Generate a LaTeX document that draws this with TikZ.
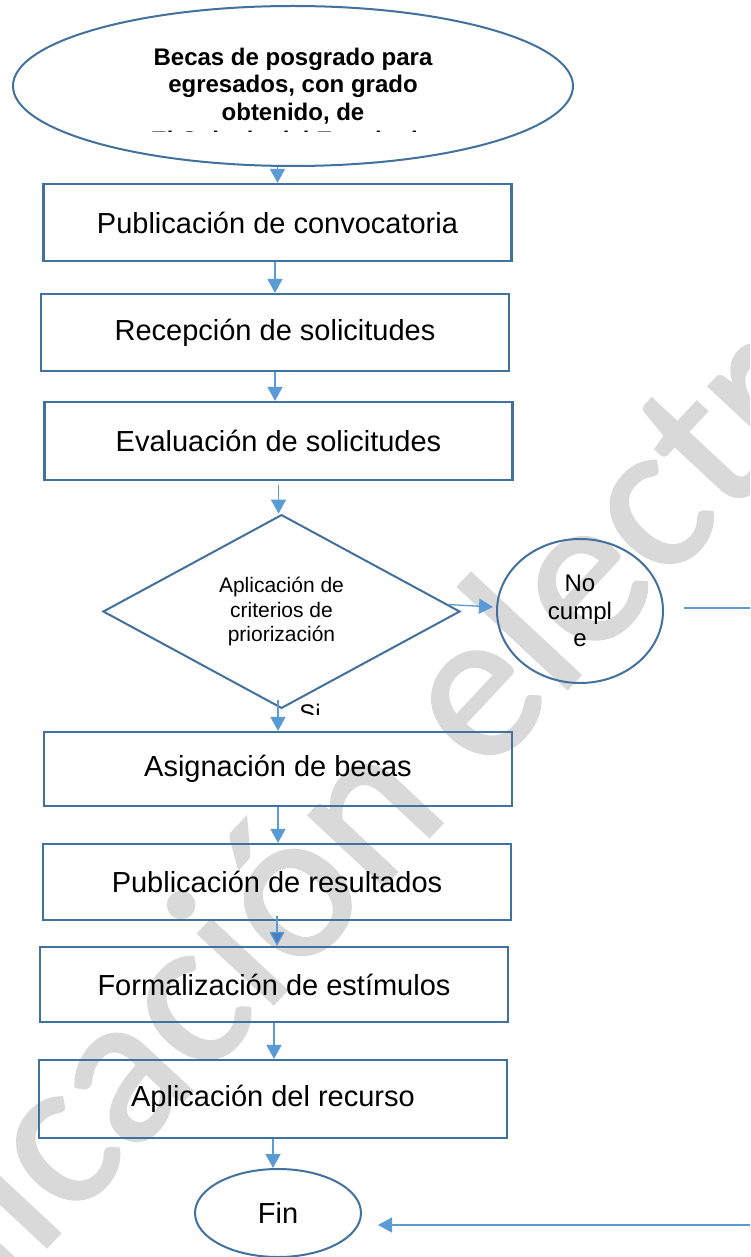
\documentclass[tikz,border=0pt]{standalone}
\usepackage{fontspec}
\setmainfont{Liberation Sans}
\newfontfamily\wmfont[FakeBold=1.3]{Carlito}
\usetikzlibrary{shapes.geometric,arrows.meta,calc}
\definecolor{bord}{HTML}{41719C}
\definecolor{arrc}{HTML}{5B9BD5}
\definecolor{arrdark}{HTML}{4A7EBB}
\definecolor{wmgray}{HTML}{D9D9D9}
\tikzset{
  boxnode/.style={draw=bord, line width=2.2pt, rectangle, minimum width=468pt, minimum height=76pt, inner sep=0pt, font=\fontsize{29}{33}\selectfont},
  ovalnode/.style={draw=bord, line width=2pt, ellipse, inner sep=0pt, align=center},
  decnode/.style={draw=bord, line width=2pt, diamond, inner sep=0pt, minimum width=357pt, minimum height=187pt, align=center, font=\fontsize{21}{24.5}\selectfont},
  flow/.style={draw=arrc, line width=1.3pt, -{Triangle[length=14pt,width=15pt]}},
  flowplain/.style={draw=arrc, line width=1.3pt}
}
\begin{document}
\begin{tikzpicture}[x=1pt,y=-1pt]
\useasboundingbox (0,0) rectangle (750,1257);
\clip (0,0) rectangle (750,1257);
\fill[white] (0,0) rectangle (750,1257);
% watermark
\node[rotate=47, anchor=base, inner sep=0pt, text=wmgray, font=\wmfont\fontsize{215}{215}\selectfont] (wmark) at (458,806) {Publicación electrónica};
% top ellipse
\node[ovalnode, minimum width=560pt, minimum height=160pt, font=\fontsize{24}{27.5}\selectfont\bfseries] (top) at (293,86) {Becas de posgrado para\\egresados, con grado\\obtenido, de};
\begin{scope}
\clip (0,0) rectangle (750,132);
\node[inner sep=0pt, anchor=base, font=\fontsize{24}{27.5}\selectfont\bfseries] (topcut) at (291,149) {El Colegio del Estado de};
\end{scope}
% boxes
\node[boxnode, minimum height=77pt] (box1) at (277.5,222.5) {Publicación de convocatoria};
\node[boxnode, minimum height=77pt] (box2) at (275,332.5) {Recepción de solicitudes};
\node[boxnode, minimum height=78pt] (box3) at (278.5,441) {Evaluación de solicitudes};
\node[decnode] (dia) at (281.5,611.5) {Aplicación de\\criterios de\\priorización};
\node[ovalnode, minimum width=166pt, minimum height=144pt, font=\fontsize{24}{27.5}\selectfont] (noc) at (580,611) {No\\cumpl\\e};
\begin{scope}
\clip (0,690) rectangle (750,714);
\node[inner sep=0pt, anchor=base, font=\fontsize{24}{27.5}\selectfont] (si) at (310,721) {Si};
\end{scope}
\node[boxnode, minimum height=74pt] (box4) at (278,769) {Asignación de becas};
\node[boxnode, minimum height=76pt] (box5) at (277,882) {Publicación de resultados};
\node[boxnode, minimum height=75pt] (box6) at (274,984.5) {Formalización de estímulos};
\node[boxnode, minimum height=78pt] (box7) at (273,1099) {Aplicación del recurso};
\node[ovalnode, minimum width=166pt, minimum height=88pt, font=\fontsize{29}{33}\selectfont] (fin) at (278,1213) {Fin};
% connectors
\draw[flow] (top.south -| box1.north) -- (box1.north);
\draw[flow] (box1.south -| box2.north) -- (box2.north);
\draw[flow] (box2.south) -- (box2.south |- box3.north);
\draw[flow] ([yshift=-4pt]box3.south) -- (box3.south |- dia.north);
\draw[flow] ([yshift=9pt]box4.north |- dia.south) -- (box4.north);
\draw[flow] (box4.south) -- (box4.south |- box5.north);
\draw[flow, -{Triangle[length=14pt,width=15pt,fill=arrdark]}] ([yshift=5pt]box5.south) -- (box5.south |- box6.north);
\draw[flow] (box6.south) -- (box6.south |- box7.north);
\draw[flow] (box7.south) -- (box7.south |- fin.north);
\draw[flow] ($(dia.east)+(-13,-7)$) -- ($(noc.west)+(-3,-4)$);
\draw[flow] ($(noc.east)+(20,-3)$) -- (780,608) -- (780,1225) -- ($(fin.east)+(16,12)$);
\end{tikzpicture}
\end{document}
